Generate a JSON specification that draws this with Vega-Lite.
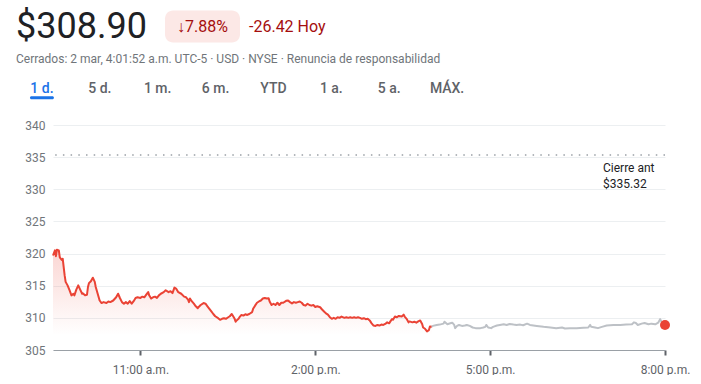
{
  "$schema": "https://vega.github.io/schema/vega-lite/v6.json",
  "padding": {"left": 16, "top": 0, "right": 0, "bottom": 0},
  "background": "white",
  "config": {"view": {"stroke": null}, "font": "Roboto", "concat": {"spacing": 0}},
  "datasets": {
    "header": [{"price": "$308.90", "pct": "↓7.88%", "chg": "-26.42 Hoy", "status": "Cerrados: 2 mar, 4:01:52 a.m. UTC-5 · USD · NYSE · Renuncia de responsabilidad"}],
    "tabs": [
      {"tab": "1 d.", "selected": true},
      {"tab": "5 d.", "selected": false},
      {"tab": "1 m.", "selected": false},
      {"tab": "6 m.", "selected": false},
      {"tab": "YTD", "selected": false},
      {"tab": "1 a.", "selected": false},
      {"tab": "5 a.", "selected": false},
      {"tab": "MÁX.", "selected": false}
    ],
    "prev": [{"p": 335.32, "label": "Cierre ant\n$335.32"}],
    "last": [{"t": "2023-03-02T20:00", "p": 308.9}],
    "prices": [
      {"t": "2023-03-02T09:30", "p": 319.7, "s": "r"},
      {"t": "2023-03-02T09:32", "p": 320.5, "s": "r"},
      {"t": "2023-03-02T09:33", "p": 319.6, "s": "r"},
      {"t": "2023-03-02T09:34", "p": 320.6, "s": "r"},
      {"t": "2023-03-02T09:36", "p": 320.5, "s": "r"},
      {"t": "2023-03-02T09:37", "p": 319.4, "s": "r"},
      {"t": "2023-03-02T09:39", "p": 319.0, "s": "r"},
      {"t": "2023-03-02T09:40", "p": 319.2, "s": "r"},
      {"t": "2023-03-02T09:41", "p": 317.9, "s": "r"},
      {"t": "2023-03-02T09:42", "p": 316.6, "s": "r"},
      {"t": "2023-03-02T09:43", "p": 315.6, "s": "r"},
      {"t": "2023-03-02T09:45", "p": 315.05, "s": "r"},
      {"t": "2023-03-02T09:47", "p": 314.3, "s": "r"},
      {"t": "2023-03-02T09:49", "p": 313.5, "s": "r"},
      {"t": "2023-03-02T09:51", "p": 313.75, "s": "r"},
      {"t": "2023-03-02T09:52", "p": 313.5, "s": "r"},
      {"t": "2023-03-02T09:54", "p": 314.4, "s": "r"},
      {"t": "2023-03-02T09:56", "p": 315.05, "s": "r"},
      {"t": "2023-03-02T09:58", "p": 314.4, "s": "r"},
      {"t": "2023-03-02T10:00", "p": 313.75, "s": "r"},
      {"t": "2023-03-02T10:01", "p": 313.8, "s": "r"},
      {"t": "2023-03-02T10:03", "p": 313.5, "s": "r"},
      {"t": "2023-03-02T10:05", "p": 313.6, "s": "r"},
      {"t": "2023-03-02T10:06", "p": 314.8, "s": "r"},
      {"t": "2023-03-02T10:07", "p": 315.4, "s": "r"},
      {"t": "2023-03-02T10:09", "p": 315.7, "s": "r"},
      {"t": "2023-03-02T10:11", "p": 316.25, "s": "r"},
      {"t": "2023-03-02T10:13", "p": 315.6, "s": "r"},
      {"t": "2023-03-02T10:14", "p": 314.8, "s": "r"},
      {"t": "2023-03-02T10:16", "p": 313.75, "s": "r"},
      {"t": "2023-03-02T10:18", "p": 312.7, "s": "r"},
      {"t": "2023-03-02T10:20", "p": 312.3, "s": "r"},
      {"t": "2023-03-02T10:22", "p": 312.45, "s": "r"},
      {"t": "2023-03-02T10:25", "p": 312.3, "s": "r"},
      {"t": "2023-03-02T10:27", "p": 312.55, "s": "r"},
      {"t": "2023-03-02T10:29", "p": 312.45, "s": "r"},
      {"t": "2023-03-02T10:32", "p": 312.7, "s": "r"},
      {"t": "2023-03-02T10:35", "p": 313.2, "s": "r"},
      {"t": "2023-03-02T10:37", "p": 313.75, "s": "r"},
      {"t": "2023-03-02T10:39", "p": 313.05, "s": "r"},
      {"t": "2023-03-02T10:41", "p": 312.45, "s": "r"},
      {"t": "2023-03-02T10:43", "p": 312.2, "s": "r"},
      {"t": "2023-03-02T10:45", "p": 312.45, "s": "r"},
      {"t": "2023-03-02T10:47", "p": 312.2, "s": "r"},
      {"t": "2023-03-02T10:49", "p": 312.6, "s": "r"},
      {"t": "2023-03-02T10:51", "p": 312.2, "s": "r"},
      {"t": "2023-03-02T10:53", "p": 312.6, "s": "r"},
      {"t": "2023-03-02T10:55", "p": 313.1, "s": "r"},
      {"t": "2023-03-02T10:57", "p": 313.2, "s": "r"},
      {"t": "2023-03-02T11:00", "p": 313.1, "s": "r"},
      {"t": "2023-03-02T11:02", "p": 313.3, "s": "r"},
      {"t": "2023-03-02T11:04", "p": 313.2, "s": "r"},
      {"t": "2023-03-02T11:06", "p": 313.6, "s": "r"},
      {"t": "2023-03-02T11:08", "p": 314.0, "s": "r"},
      {"t": "2023-03-02T11:09", "p": 313.5, "s": "r"},
      {"t": "2023-03-02T11:11", "p": 313.0, "s": "r"},
      {"t": "2023-03-02T11:13", "p": 313.2, "s": "r"},
      {"t": "2023-03-02T11:15", "p": 313.3, "s": "r"},
      {"t": "2023-03-02T11:17", "p": 313.1, "s": "r"},
      {"t": "2023-03-02T11:19", "p": 313.5, "s": "r"},
      {"t": "2023-03-02T11:21", "p": 313.75, "s": "r"},
      {"t": "2023-03-02T11:24", "p": 314.0, "s": "r"},
      {"t": "2023-03-02T11:26", "p": 314.3, "s": "r"},
      {"t": "2023-03-02T11:29", "p": 314.0, "s": "r"},
      {"t": "2023-03-02T11:31", "p": 314.15, "s": "r"},
      {"t": "2023-03-02T11:33", "p": 313.85, "s": "r"},
      {"t": "2023-03-02T11:35", "p": 314.7, "s": "r"},
      {"t": "2023-03-02T11:37", "p": 314.5, "s": "r"},
      {"t": "2023-03-02T11:39", "p": 314.0, "s": "r"},
      {"t": "2023-03-02T11:42", "p": 313.75, "s": "r"},
      {"t": "2023-03-02T11:45", "p": 313.3, "s": "r"},
      {"t": "2023-03-02T11:47", "p": 313.2, "s": "r"},
      {"t": "2023-03-02T11:49", "p": 312.85, "s": "r"},
      {"t": "2023-03-02T11:50", "p": 312.45, "s": "r"},
      {"t": "2023-03-02T11:51", "p": 313.0, "s": "r"},
      {"t": "2023-03-02T11:53", "p": 312.55, "s": "r"},
      {"t": "2023-03-02T11:55", "p": 312.2, "s": "r"},
      {"t": "2023-03-02T11:57", "p": 311.8, "s": "r"},
      {"t": "2023-03-02T11:59", "p": 311.5, "s": "r"},
      {"t": "2023-03-02T12:00", "p": 311.7, "s": "r"},
      {"t": "2023-03-02T12:02", "p": 312.0, "s": "r"},
      {"t": "2023-03-02T12:05", "p": 312.3, "s": "r"},
      {"t": "2023-03-02T12:07", "p": 312.2, "s": "r"},
      {"t": "2023-03-02T12:09", "p": 311.8, "s": "r"},
      {"t": "2023-03-02T12:11", "p": 311.4, "s": "r"},
      {"t": "2023-03-02T12:13", "p": 311.0, "s": "r"},
      {"t": "2023-03-02T12:15", "p": 310.6, "s": "r"},
      {"t": "2023-03-02T12:17", "p": 310.25, "s": "r"},
      {"t": "2023-03-02T12:20", "p": 309.95, "s": "r"},
      {"t": "2023-03-02T12:22", "p": 309.7, "s": "r"},
      {"t": "2023-03-02T12:24", "p": 309.85, "s": "r"},
      {"t": "2023-03-02T12:26", "p": 309.95, "s": "r"},
      {"t": "2023-03-02T12:28", "p": 309.85, "s": "r"},
      {"t": "2023-03-02T12:30", "p": 310.05, "s": "r"},
      {"t": "2023-03-02T12:32", "p": 310.25, "s": "r"},
      {"t": "2023-03-02T12:34", "p": 310.6, "s": "r"},
      {"t": "2023-03-02T12:35", "p": 310.35, "s": "r"},
      {"t": "2023-03-02T12:37", "p": 309.85, "s": "r"},
      {"t": "2023-03-02T12:38", "p": 309.4, "s": "r"},
      {"t": "2023-03-02T12:39", "p": 309.6, "s": "r"},
      {"t": "2023-03-02T12:41", "p": 309.85, "s": "r"},
      {"t": "2023-03-02T12:42", "p": 310.1, "s": "r"},
      {"t": "2023-03-02T12:44", "p": 310.45, "s": "r"},
      {"t": "2023-03-02T12:46", "p": 310.35, "s": "r"},
      {"t": "2023-03-02T12:48", "p": 310.55, "s": "r"},
      {"t": "2023-03-02T12:50", "p": 310.45, "s": "r"},
      {"t": "2023-03-02T12:52", "p": 310.6, "s": "r"},
      {"t": "2023-03-02T12:55", "p": 310.9, "s": "r"},
      {"t": "2023-03-02T12:56", "p": 311.4, "s": "r"},
      {"t": "2023-03-02T12:58", "p": 311.9, "s": "r"},
      {"t": "2023-03-02T13:00", "p": 312.35, "s": "r"},
      {"t": "2023-03-02T13:02", "p": 312.55, "s": "r"},
      {"t": "2023-03-02T13:04", "p": 312.7, "s": "r"},
      {"t": "2023-03-02T13:06", "p": 313.0, "s": "r"},
      {"t": "2023-03-02T13:08", "p": 313.1, "s": "r"},
      {"t": "2023-03-02T13:10", "p": 313.0, "s": "r"},
      {"t": "2023-03-02T13:12", "p": 313.05, "s": "r"},
      {"t": "2023-03-02T13:13", "p": 312.55, "s": "r"},
      {"t": "2023-03-02T13:15", "p": 312.0, "s": "r"},
      {"t": "2023-03-02T13:17", "p": 312.2, "s": "r"},
      {"t": "2023-03-02T13:19", "p": 312.0, "s": "r"},
      {"t": "2023-03-02T13:21", "p": 312.35, "s": "r"},
      {"t": "2023-03-02T13:23", "p": 312.0, "s": "r"},
      {"t": "2023-03-02T13:25", "p": 312.35, "s": "r"},
      {"t": "2023-03-02T13:27", "p": 312.35, "s": "r"},
      {"t": "2023-03-02T13:30", "p": 312.65, "s": "r"},
      {"t": "2023-03-02T13:32", "p": 312.7, "s": "r"},
      {"t": "2023-03-02T13:34", "p": 312.45, "s": "r"},
      {"t": "2023-03-02T13:36", "p": 312.25, "s": "r"},
      {"t": "2023-03-02T13:38", "p": 312.45, "s": "r"},
      {"t": "2023-03-02T13:40", "p": 312.35, "s": "r"},
      {"t": "2023-03-02T13:42", "p": 312.45, "s": "r"},
      {"t": "2023-03-02T13:44", "p": 312.55, "s": "r"},
      {"t": "2023-03-02T13:46", "p": 312.35, "s": "r"},
      {"t": "2023-03-02T13:48", "p": 312.0, "s": "r"},
      {"t": "2023-03-02T13:50", "p": 311.9, "s": "r"},
      {"t": "2023-03-02T13:52", "p": 312.2, "s": "r"},
      {"t": "2023-03-02T13:54", "p": 312.0, "s": "r"},
      {"t": "2023-03-02T13:56", "p": 311.9, "s": "r"},
      {"t": "2023-03-02T13:58", "p": 312.0, "s": "r"},
      {"t": "2023-03-02T14:00", "p": 311.7, "s": "r"},
      {"t": "2023-03-02T14:02", "p": 311.8, "s": "r"},
      {"t": "2023-03-02T14:05", "p": 311.65, "s": "r"},
      {"t": "2023-03-02T14:07", "p": 311.3, "s": "r"},
      {"t": "2023-03-02T14:09", "p": 311.0, "s": "r"},
      {"t": "2023-03-02T14:11", "p": 310.7, "s": "r"},
      {"t": "2023-03-02T14:13", "p": 310.5, "s": "r"},
      {"t": "2023-03-02T14:15", "p": 310.1, "s": "r"},
      {"t": "2023-03-02T14:17", "p": 309.85, "s": "r"},
      {"t": "2023-03-02T14:19", "p": 310.0, "s": "r"},
      {"t": "2023-03-02T14:21", "p": 309.85, "s": "r"},
      {"t": "2023-03-02T14:23", "p": 310.1, "s": "r"},
      {"t": "2023-03-02T14:25", "p": 310.0, "s": "r"},
      {"t": "2023-03-02T14:27", "p": 310.2, "s": "r"},
      {"t": "2023-03-02T14:30", "p": 310.0, "s": "r"},
      {"t": "2023-03-02T14:32", "p": 310.1, "s": "r"},
      {"t": "2023-03-02T14:34", "p": 310.0, "s": "r"},
      {"t": "2023-03-02T14:36", "p": 310.1, "s": "r"},
      {"t": "2023-03-02T14:38", "p": 310.0, "s": "r"},
      {"t": "2023-03-02T14:40", "p": 310.1, "s": "r"},
      {"t": "2023-03-02T14:42", "p": 310.0, "s": "r"},
      {"t": "2023-03-02T14:44", "p": 310.1, "s": "r"},
      {"t": "2023-03-02T14:46", "p": 310.0, "s": "r"},
      {"t": "2023-03-02T14:48", "p": 309.85, "s": "r"},
      {"t": "2023-03-02T14:50", "p": 309.95, "s": "r"},
      {"t": "2023-03-02T14:52", "p": 309.8, "s": "r"},
      {"t": "2023-03-02T14:54", "p": 309.85, "s": "r"},
      {"t": "2023-03-02T14:56", "p": 309.6, "s": "r"},
      {"t": "2023-03-02T14:58", "p": 309.15, "s": "r"},
      {"t": "2023-03-02T15:00", "p": 308.8, "s": "r"},
      {"t": "2023-03-02T15:02", "p": 308.75, "s": "r"},
      {"t": "2023-03-02T15:04", "p": 308.9, "s": "r"},
      {"t": "2023-03-02T15:06", "p": 308.8, "s": "r"},
      {"t": "2023-03-02T15:08", "p": 308.95, "s": "r"},
      {"t": "2023-03-02T15:10", "p": 308.9, "s": "r"},
      {"t": "2023-03-02T15:12", "p": 309.05, "s": "r"},
      {"t": "2023-03-02T15:14", "p": 309.3, "s": "r"},
      {"t": "2023-03-02T15:16", "p": 309.15, "s": "r"},
      {"t": "2023-03-02T15:18", "p": 309.6, "s": "r"},
      {"t": "2023-03-02T15:19", "p": 309.8, "s": "r"},
      {"t": "2023-03-02T15:20", "p": 309.7, "s": "r"},
      {"t": "2023-03-02T15:22", "p": 310.2, "s": "r"},
      {"t": "2023-03-02T15:24", "p": 310.1, "s": "r"},
      {"t": "2023-03-02T15:26", "p": 310.3, "s": "r"},
      {"t": "2023-03-02T15:29", "p": 310.2, "s": "r"},
      {"t": "2023-03-02T15:31", "p": 310.5, "s": "r"},
      {"t": "2023-03-02T15:32", "p": 310.2, "s": "r"},
      {"t": "2023-03-02T15:34", "p": 309.85, "s": "r"},
      {"t": "2023-03-02T15:36", "p": 309.3, "s": "r"},
      {"t": "2023-03-02T15:37", "p": 309.45, "s": "r"},
      {"t": "2023-03-02T15:40", "p": 309.3, "s": "r"},
      {"t": "2023-03-02T15:42", "p": 309.4, "s": "r"},
      {"t": "2023-03-02T15:44", "p": 309.25, "s": "r"},
      {"t": "2023-03-02T15:46", "p": 309.45, "s": "r"},
      {"t": "2023-03-02T15:48", "p": 309.6, "s": "r"},
      {"t": "2023-03-02T15:50", "p": 309.05, "s": "r"},
      {"t": "2023-03-02T15:51", "p": 308.5, "s": "r"},
      {"t": "2023-03-02T15:53", "p": 308.3, "s": "r"},
      {"t": "2023-03-02T15:55", "p": 307.9, "s": "r"},
      {"t": "2023-03-02T15:57", "p": 308.1, "s": "r"},
      {"t": "2023-03-02T15:58", "p": 308.65, "s": "r"},
      {"t": "2023-03-02T16:00", "p": 308.6, "s": "r"},
      {"t": "2023-03-02T16:00", "p": 308.6, "s": "a"},
      {"t": "2023-03-02T16:01", "p": 308.75, "s": "a"},
      {"t": "2023-03-02T16:05", "p": 308.9, "s": "a"},
      {"t": "2023-03-02T16:08", "p": 308.95, "s": "a"},
      {"t": "2023-03-02T16:12", "p": 309.1, "s": "a"},
      {"t": "2023-03-02T16:13", "p": 309.4, "s": "a"},
      {"t": "2023-03-02T16:16", "p": 309.0, "s": "a"},
      {"t": "2023-03-02T16:19", "p": 309.15, "s": "a"},
      {"t": "2023-03-02T16:21", "p": 309.25, "s": "a"},
      {"t": "2023-03-02T16:23", "p": 308.9, "s": "a"},
      {"t": "2023-03-02T16:24", "p": 308.4, "s": "a"},
      {"t": "2023-03-02T16:26", "p": 308.75, "s": "a"},
      {"t": "2023-03-02T16:28", "p": 308.9, "s": "a"},
      {"t": "2023-03-02T16:31", "p": 308.75, "s": "a"},
      {"t": "2023-03-02T16:34", "p": 308.8, "s": "a"},
      {"t": "2023-03-02T16:36", "p": 308.9, "s": "a"},
      {"t": "2023-03-02T16:39", "p": 308.75, "s": "a"},
      {"t": "2023-03-02T16:42", "p": 308.5, "s": "a"},
      {"t": "2023-03-02T16:45", "p": 308.4, "s": "a"},
      {"t": "2023-03-02T16:50", "p": 308.4, "s": "a"},
      {"t": "2023-03-02T16:53", "p": 308.5, "s": "a"},
      {"t": "2023-03-02T16:55", "p": 308.6, "s": "a"},
      {"t": "2023-03-02T16:56", "p": 308.9, "s": "a"},
      {"t": "2023-03-02T16:58", "p": 308.5, "s": "a"},
      {"t": "2023-03-02T17:01", "p": 308.4, "s": "a"},
      {"t": "2023-03-02T17:03", "p": 308.6, "s": "a"},
      {"t": "2023-03-02T17:07", "p": 308.8, "s": "a"},
      {"t": "2023-03-02T17:10", "p": 308.9, "s": "a"},
      {"t": "2023-03-02T17:14", "p": 309.0, "s": "a"},
      {"t": "2023-03-02T17:17", "p": 308.9, "s": "a"},
      {"t": "2023-03-02T17:20", "p": 309.05, "s": "a"},
      {"t": "2023-03-02T17:24", "p": 308.95, "s": "a"},
      {"t": "2023-03-02T17:27", "p": 308.9, "s": "a"},
      {"t": "2023-03-02T17:31", "p": 308.95, "s": "a"},
      {"t": "2023-03-02T17:34", "p": 308.85, "s": "a"},
      {"t": "2023-03-02T17:38", "p": 309.1, "s": "a"},
      {"t": "2023-03-02T17:41", "p": 308.9, "s": "a"},
      {"t": "2023-03-02T17:48", "p": 308.75, "s": "a"},
      {"t": "2023-03-02T17:55", "p": 308.6, "s": "a"},
      {"t": "2023-03-02T18:02", "p": 308.5, "s": "a"},
      {"t": "2023-03-02T18:08", "p": 308.4, "s": "a"},
      {"t": "2023-03-02T18:14", "p": 308.5, "s": "a"},
      {"t": "2023-03-02T18:17", "p": 308.35, "s": "a"},
      {"t": "2023-03-02T18:22", "p": 308.4, "s": "a"},
      {"t": "2023-03-02T18:29", "p": 308.4, "s": "a"},
      {"t": "2023-03-02T18:36", "p": 308.45, "s": "a"},
      {"t": "2023-03-02T18:41", "p": 308.5, "s": "a"},
      {"t": "2023-03-02T18:43", "p": 308.9, "s": "a"},
      {"t": "2023-03-02T18:44", "p": 308.6, "s": "a"},
      {"t": "2023-03-02T18:48", "p": 308.5, "s": "a"},
      {"t": "2023-03-02T18:51", "p": 308.4, "s": "a"},
      {"t": "2023-03-02T18:55", "p": 308.6, "s": "a"},
      {"t": "2023-03-02T19:00", "p": 308.8, "s": "a"},
      {"t": "2023-03-02T19:07", "p": 308.9, "s": "a"},
      {"t": "2023-03-02T19:14", "p": 308.9, "s": "a"},
      {"t": "2023-03-02T19:20", "p": 308.95, "s": "a"},
      {"t": "2023-03-02T19:26", "p": 309.0, "s": "a"},
      {"t": "2023-03-02T19:28", "p": 309.3, "s": "a"},
      {"t": "2023-03-02T19:30", "p": 309.2, "s": "a"},
      {"t": "2023-03-02T19:32", "p": 308.9, "s": "a"},
      {"t": "2023-03-02T19:36", "p": 309.1, "s": "a"},
      {"t": "2023-03-02T19:39", "p": 309.2, "s": "a"},
      {"t": "2023-03-02T19:43", "p": 309.0, "s": "a"},
      {"t": "2023-03-02T19:46", "p": 309.1, "s": "a"},
      {"t": "2023-03-02T19:50", "p": 309.0, "s": "a"},
      {"t": "2023-03-02T19:53", "p": 309.25, "s": "a"},
      {"t": "2023-03-02T19:55", "p": 309.8, "s": "a"},
      {"t": "2023-03-02T19:57", "p": 309.25, "s": "a"},
      {"t": "2023-03-02T20:00", "p": 308.9, "s": "a"}
    ]
  },
  "spacing": 0,
  "bounds": "full",
  "vconcat": [
    {
      "hconcat": [
        {
          "width": 112, "height": 53,
          "data": {"name": "header"},
          "mark": {"type": "text", "align": "left", "baseline": "middle", "dx": -93, "fontSize": 36, "color": "#202124"},
          "encoding": {"text": {"field": "price", "type": "nominal"}}
        },
        {
          "width": 75, "height": 32,
          "data": {"name": "header"},
          "layer": [
            {"mark": {"type": "rect", "color": "#fce8e6", "cornerRadius": 8}, "encoding": {}},
            {"mark": {"type": "text", "fontSize": 16, "color": "#a50e0e"}, "encoding": {"text": {"field": "pct", "type": "nominal"}}}
          ]
        },
        {
          "width": 91, "height": 53,
          "data": {"name": "header"},
          "mark": {"type": "text", "align": "left", "baseline": "middle", "dx": -36.5, "fontSize": 16, "color": "#a50e0e"},
          "encoding": {"text": {"field": "chg", "type": "nominal"}}
        }
      ],
      "spacing": 0,
      "bounds": "flush",
      "center": true
    },
    {
      "width": 463, "height": 66,
      "layer": [
        {
          "data": {"name": "header"},
          "mark": {"type": "text", "align": "left", "baseline": "middle", "dx": -268.5, "dy": -27, "fontSize": 12, "color": "#70757a"},
          "encoding": {"text": {"field": "status", "type": "nominal"}}
        },
        {
          "data": {"name": "tabs"},
          "mark": {"type": "text", "baseline": "alphabetic", "dy": 7, "dx": -40, "fontSize": 14, "fontWeight": 500},
          "encoding": {
            "x": {"field": "tab", "type": "nominal", "scale": {"domain": ["1 d.", "5 d.", "1 m.", "6 m.", "YTD", "1 a.", "5 a.", "MÁX."], "paddingInner": 0, "paddingOuter": 0}, "axis": null},
            "text": {"field": "tab", "type": "nominal"},
            "color": {"condition": {"test": "datum.selected", "value": "#1a73e8"}, "value": "#5f6368"}
          }
        },
        {
          "data": {"name": "tabs"},
          "transform": [{"filter": "datum.selected"}],
          "mark": {"type": "tick", "orient": "horizontal", "size": 24, "thickness": 3, "color": "#1a73e8", "opacity": 1, "xOffset": -40, "yOffset": 11.75, "cornerRadius": 1.5},
          "encoding": {
            "x": {"field": "tab", "type": "nominal"}
          }
        }
      ]
    },
    {
      "width": 612, "height": 225,
      "layer": [
        {
          "data": {"name": "prices"},
          "transform": [{"filter": "datum.s === 'r'"}],
          "mark": {
            "type": "area",
            "color": {"gradient": "linear", "x1": 0, "y1": 0, "x2": 0, "y2": 1,
              "stops": [{"offset": 0, "color": "rgba(234,67,53,0.22)"}, {"offset": 0.85, "color": "rgba(234,67,53,0)"}]}
          },
          "encoding": {
            "x": {
              "field": "t", "type": "temporal",
              "scale": {"domain": [{"year": 2023, "month": 3, "date": 2, "hours": 9, "minutes": 30}, {"year": 2023, "month": 3, "date": 2, "hours": 20}], "nice": false},
              "axis": {
                "values": [
                  {"year": 2023, "month": 3, "date": 2, "hours": 11},
                  {"year": 2023, "month": 3, "date": 2, "hours": 14},
                  {"year": 2023, "month": 3, "date": 2, "hours": 17},
                  {"year": 2023, "month": 3, "date": 2, "hours": 20}
                ],
                "labelExpr": "timeFormat(datum.value, '%-I:%M') + (hours(datum.value) < 12 ? ' a.m.' : ' p.m.')",
                "title": null, "grid": false,
                "domainColor": "#9aa0a6", "domainWidth": 1,
                "tickColor": "#5f6368", "tickWidth": 2, "tickSize": 5,
                "labelColor": "#5f6368", "labelFontSize": 12, "labelPadding": 9,
                "labelFlush": false, "labelOverlap": false
              }
            },
            "y": {
              "field": "p", "type": "quantitative",
              "scale": {"domain": [305, 340], "zero": false, "nice": false},
              "axis": {
                "values": [305, 310, 315, 320, 325, 330, 335, 340],
                "tickCount": 10,
                "title": null, "domain": false, "ticks": false,
                "grid": true, "gridColor": "#eceff1", "gridWidth": 1,
                "labelColor": "#70757a", "labelFontSize": 12, "labelPadding": 8,
                "labelOverlap": false, "minExtent": 37, "maxExtent": 37
              }
            },
            "y2": {"datum": 305}
          }
        },
        {
          "data": {"name": "prev"},
          "mark": {"type": "rule", "color": "#9aa0a6", "strokeWidth": 1.5, "strokeDash": [1.5, 6.2]},
          "encoding": {"y": {"field": "p", "type": "quantitative"}}
        },
        {
          "data": {"name": "prices"},
          "mark": {"type": "line", "strokeWidth": 2, "strokeJoin": "round"},
          "encoding": {
            "x": {"field": "t", "type": "temporal"},
            "y": {"field": "p", "type": "quantitative"},
            "color": {"field": "s", "type": "nominal", "scale": {"domain": ["a", "r"], "range": ["#bdc1c6", "#ea4335"]}, "legend": null}
          }
        },
        {
          "data": {"name": "prev"},
          "mark": {"type": "text", "align": "left", "baseline": "alphabetic", "dx": -62, "dy": 17, "lineHeight": 16, "lineBreak": "\n", "fontSize": 12, "color": "#202124"},
          "encoding": {
            "x": {"datum": {"year": 2023, "month": 3, "date": 2, "hours": 20}, "type": "temporal"},
            "y": {"field": "p", "type": "quantitative"},
            "text": {"field": "label", "type": "nominal"}
          }
        },
        {
          "data": {"name": "last"},
          "mark": {"type": "point", "filled": true, "size": 100, "color": "#ea4335", "opacity": 1},
          "encoding": {
            "x": {"field": "t", "type": "temporal"},
            "y": {"field": "p", "type": "quantitative"}
          }
        }
      ]
    }
  ]
}
